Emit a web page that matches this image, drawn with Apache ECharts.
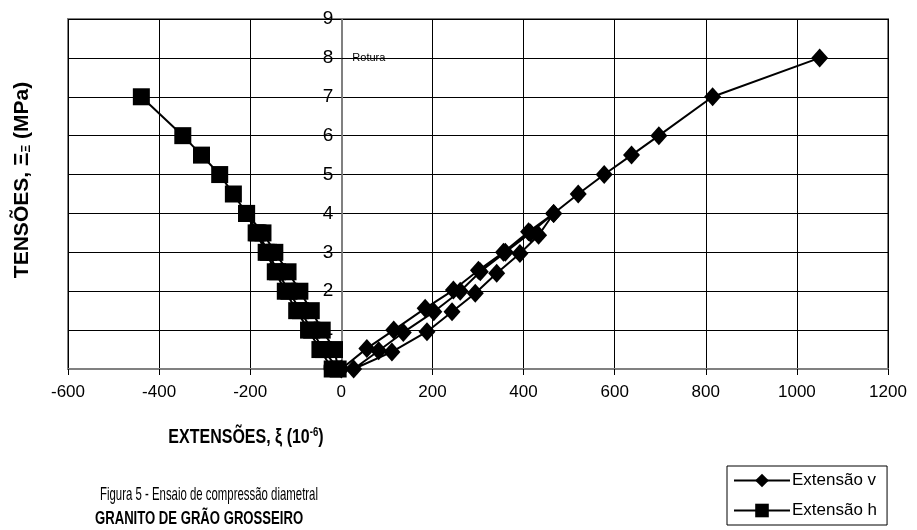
<!DOCTYPE html>
<html><head><meta charset="utf-8">
<script src="https://cdn.jsdelivr.net/npm/echarts@6/dist/echarts.min.js"></script>
<style>html,body{margin:0;padding:0;background:#fff}#c{width:917px;height:530px}</style>
</head><body><div id="c"></div>
<script>
var xTicks = [-600,-400,-200,0,200,400,600,800,1000,1200];
var yTicks = [0,1,2,3,4,5,6,7,8,9];
var vX = [0,56,115,184,246,301,356,411,466, 433,392,341,294,243,188,111,27, 82,136,203,261,305,360,415,466,520,577,637,697,815,1050];
var vY = [0,0.53,1.0,1.56,2.03,2.54,3.0,3.53,4.0, 3.44,2.97,2.46,1.95,1.47,0.96,0.44,0, 0.47,0.94,1.47,2.0,2.5,3.0,3.5,4.0,4.5,5.0,5.5,6.0,7.0,8.0];
var hX = [-20,-47,-72,-98,-123,-145,-165,-187,-208, -172,-146,-117,-91,-66,-42,-15,-7, -40,-65,-90,-115,-140,-160,-183,-208,-237,-267,-307,-348,-439];
var hY = [0,0.5,1,1.5,2,2.5,3,3.5,4, 3.5,3,2.5,2,1.5,1,0.5,0, 0.5,1,1.5,2,2.5,3,3.5,4,4.5,5,5.5,6,7];
var seriesNames = ['Extensão v','Extensão h'];
var ruptureLabel = 'Rotura';
var ruptureStress = 8;

function pairs(xs, ys){ return xs.map(function(x,i){return [x, ys[i]];}); }
var sans = "'Liberation Sans',Arial,sans-serif";
var W = 917, gl = 68, gr = 29;
var xMin = xTicks[0], xMax = xTicks[xTicks.length-1];
var zeroOffset = -(W - gl - gr) * (0 - xMin) / (xMax - xMin);
var chart = echarts.init(document.getElementById('c'), null, {renderer:'canvas'});
chart.setOption({
  animation:false,
  backgroundColor:'#fff',
  grid:{left:gl,right:gr,top:19,bottom:161,show:true,borderColor:'#808080',borderWidth:2,backgroundColor:'transparent'},
  xAxis:{type:'value',min:xMin,max:xMax,interval:200,
    axisLine:{show:true,onZero:false,lineStyle:{color:'#808080',width:2}},
    axisTick:{show:true,length:6,lineStyle:{color:'#000'}},
    axisLabel:{color:'#000',fontSize:17,fontFamily:sans,margin:15,formatter:function(v){return String(v);}},
    splitLine:{show:true,lineStyle:{color:'#000',width:1}}},
  yAxis:{type:'value',min:yTicks[0],max:yTicks[yTicks.length-1],interval:1,position:'left',offset:zeroOffset,
    axisLine:{show:true,onZero:false,lineStyle:{color:'#808080',width:2}},
    axisTick:{show:true,length:4,lineStyle:{color:'#000'}},
    axisLabel:{color:'#000',fontSize:19,fontFamily:sans,margin:8},
    splitLine:{show:true,lineStyle:{color:'#000',width:1}}},
  legend:{show:true,orient:'vertical',left:727,top:466,
    backgroundColor:'#fff',borderColor:'#000',borderWidth:1,padding:[6,10,6,6],itemGap:13,
    itemWidth:56,itemHeight:17,
    textStyle:{color:'#000',fontSize:17,fontFamily:sans,padding:[0,0,0,-3]},
    data:seriesNames},
  series:[
    {name:seriesNames[0],type:'line',data:pairs(vX,vY),symbol:'diamond',symbolSize:[17,19],
      lineStyle:{color:'#000',width:2},itemStyle:{color:'#000'},z:3,
      markLine:{silent:true,symbol:'none',lineStyle:{color:'#000',width:1,type:'solid'},
        label:{show:true,position:'end',formatter:ruptureLabel,color:'#000',fontSize:11,fontFamily:sans,distance:1},
        data:[[{coord:[0,ruptureStress]},{coord:[22,ruptureStress]}]]}},
    {name:seriesNames[1],type:'line',data:pairs(hX,hY),symbol:'rect',symbolSize:17,
      lineStyle:{color:'#000',width:2},itemStyle:{color:'#000'},z:3}
  ],
  graphic:[
    {type:'text',rotation:Math.PI/2,x:22,y:180,
      style:{text:'TENSÕES, Ξ{s|Ξ} (MPa)',rich:{s:{fontSize:12,fontWeight:'bold',verticalAlign:'bottom',fontFamily:sans}},
        fontSize:21,fontWeight:'bold',fill:'#000',fontFamily:sans,align:'center',verticalAlign:'middle'}},
    {type:'text',x:246,y:437,scaleX:0.8,
      style:{text:'EXTENSÕES, ξ (10{sup|-6})',rich:{sup:{fontSize:12,fontWeight:'bold',verticalAlign:'top',fontFamily:sans}},
        fontSize:20,fontWeight:'bold',fill:'#000',fontFamily:sans,align:'center',verticalAlign:'middle'}},
    {type:'text',x:100,y:495,scaleX:0.6,style:{text:'Figura 5 - Ensaio de compressão diametral',fontSize:19,fill:'#000',fontFamily:sans,verticalAlign:'middle'}},
    {type:'text',x:95,y:519,scaleX:0.69,style:{text:'GRANITO DE GRÃO GROSSEIRO',fontSize:19,fontWeight:'bold',fill:'#000',fontFamily:sans,verticalAlign:'middle'}}
  ]
});
</script></body></html>
